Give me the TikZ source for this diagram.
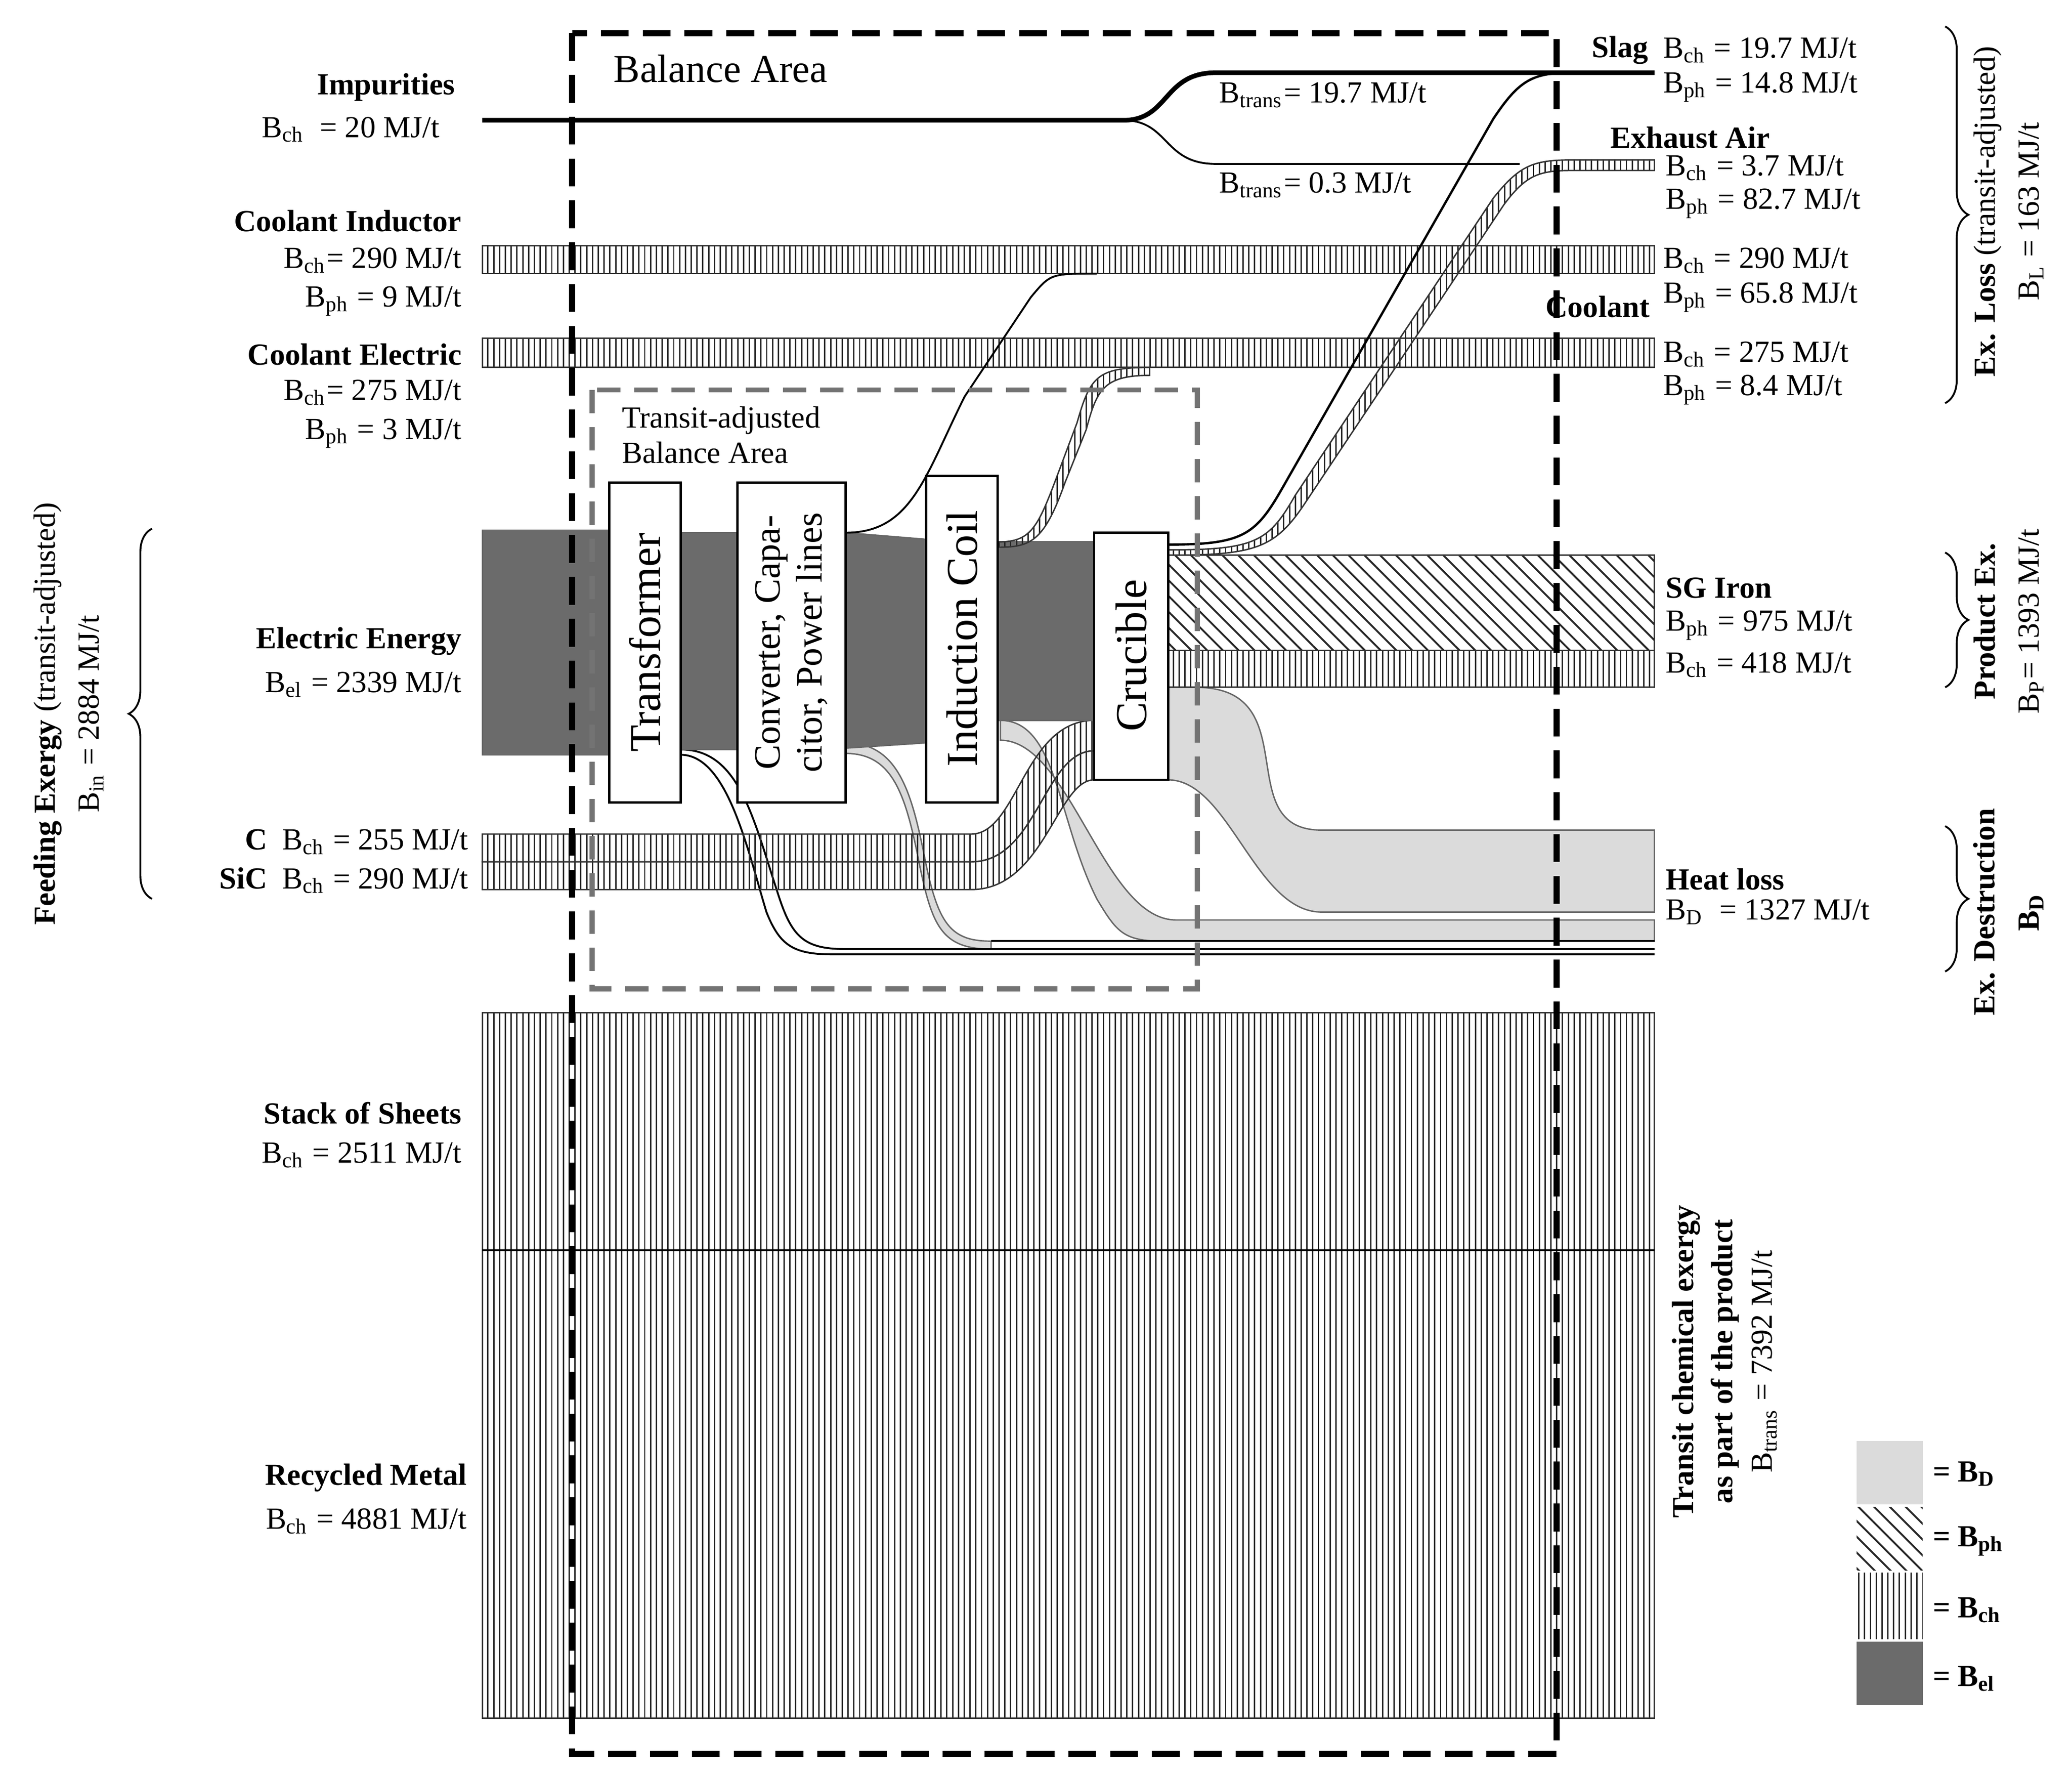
\documentclass[tikz,border=0pt]{standalone}
\usepackage{fontspec}
\setmainfont{Liberation Serif}
\usetikzlibrary{patterns,patterns.meta,decorations.pathreplacing}
\newcommand\Bsub[1]{B\textsubscript{#1}}
\begin{document}
\begin{tikzpicture}[x=0.01cm,y=-0.01cm,font=\fontsize{6.6}{7.5}\selectfont,
 chh/.style={pattern={Lines[angle=90,distance=1.25pt,line width=0.3pt]},pattern color=black!85,draw=black!80,line width=0.3pt},
 phh/.style={pattern={Lines[angle=-45,distance=2.4pt,line width=0.4pt]},pattern color=black!85,draw=black!80,line width=0.3pt},
 elf/.style={fill=black!58,draw=black!60,line width=0.3pt},
 dsf/.style={fill=black!14,draw=black!60,line width=0.3pt},
 box/.style={draw,fill=white,line width=0.5pt},
 lab/.style={anchor=east,align=right,inner sep=0},
 rlab/.style={anchor=west,align=left,inner sep=0},
 br/.style={decorate,decoration={brace,amplitude=5pt},line width=0.4pt}]
\useasboundingbox (0,0) rectangle (1568,1345);
% stack
\path[chh] (365,766) rectangle (1252,1300);
\draw[line width=0.4pt] (365,946) -- (1252,946);
% coolant bands
\path[chh] (365,186) rectangle (1252,207);
\path[chh] (365,256) rectangle (1252,278);
% impurities
\draw[line width=1pt] (365,91) -- (850,91) .. controls (885,91) and (880,55) .. (920,55) -- (1252,55);
\draw[line width=0.4pt] (850,91) .. controls (885,91) and (880,124) .. (920,124) -- (1150,124);
% heat loss
\path[dsf] (884,520) -- (905,520) .. controls (990,520) and (930,628) .. (1000,628) -- (1252,628) -- (1252,690) -- (1000,690) .. controls (950,690) and (930,590) .. (884,590) -- cycle;
\path[dsf] (757,545) .. controls (800,545) and (800,620) .. (830,680) .. controls (845,705) and (850,712) .. (880,712) -- (1252,712) -- (1252,696) -- (890,696) .. controls (835,696) and (810,560) .. (757,560) -- cycle;
\path[dsf] (640,562) .. controls (680,562) and (690,600) .. (700,650) .. controls (710,700) and (720,712) .. (750,712) -- (750,718) .. controls (712,718) and (705,700) .. (695,650) .. controls (685,600) and (675,570) .. (640,570) -- cycle;
\draw[line width=0.4pt] (750,712) -- (1252,712);
\draw[line width=0.4pt] (515,567) .. controls (560,567) and (570,620) .. (590,680) .. controls (600,710) and (610,718) .. (640,718) -- (1252,718);
\draw[line width=0.4pt] (515,571) .. controls (550,571) and (565,640) .. (580,690) .. controls (590,715) and (600,722) .. (630,722) -- (1252,722);
% C and SiC
\path[chh] (365,631) -- (735,631) .. controls (770,631) and (775,545) .. (828,545) -- (828,568) .. controls (790,568) and (785,652) .. (735,652) -- (365,652) -- cycle;
\path[chh] (365,652) -- (735,652) .. controls (785,652) and (790,568) .. (828,568) -- (828,590) .. controls (800,590) and (790,673) .. (735,673) -- (365,673) -- cycle;
% electric
\path[elf] (365,401) rectangle (461,571);
\path[elf] (515,403) rectangle (558,567);
\path[elf] (640,403) -- (701,408) -- (701,562) -- (640,566) -- cycle;
\path[elf] (755,410) rectangle (828,545);
% SG iron
\path[phh] (884,420) rectangle (1252,492);
\path[chh] (884,492) rectangle (1252,520);
% lines upward
\draw[line width=0.4pt] (640,403) .. controls (690,403) and (700,360) .. (730,300) -- (780,225) .. controls (795,207) .. (830,207);
\path[chh] (755,410) .. controls (780,410) and (785,400) .. (800,360) -- (815,320) .. controls (825,285) and (830,278) .. (870,278) -- (870,284) .. controls (835,284) and (830,295) .. (822,325) -- (806,365) .. controls (790,410) and (780,414) .. (755,414) -- cycle;
\draw[line width=0.5pt] (884,412) .. controls (940,412) and (950,405) .. (970,370) -- (1130,90) .. controls (1150,60) and (1160,55) .. (1190,55);
\path[chh] (884,416) .. controls (950,416) and (960,410) .. (980,375) -- (1130,150) .. controls (1150,125) and (1160,121) .. (1190,121) -- (1252,121) -- (1252,129) -- (1190,129) .. controls (1165,129) and (1155,132) .. (1138,155) -- (988,380) .. controls (965,415) and (950,420) .. (884,420) -- cycle;
% boxes
\draw[box] (461,365) rectangle (515,607);
\node[rotate=90,font=\fontsize{9.5}{10}\selectfont] at (488,486) {Transformer};
\draw[box] (558,365) rectangle (640,607);
\node[rotate=90,align=center,font=\fontsize{8}{9}\selectfont] at (599,486) {Converter, Capa-\\citor, Power lines};
\draw[box] (701,360) rectangle (755,607);
\node[rotate=90,font=\fontsize{9.5}{10}\selectfont] at (728,483) {Induction Coil};
\draw[box] (828,403) rectangle (884,590);
\node[rotate=90,font=\fontsize{9.5}{10}\selectfont] at (856,496) {Crucible};
% balance areas
\draw[line width=1.3pt,dash pattern=on 6pt off 3pt] (433,25) rectangle (1178,1327);
\draw[line width=1.1pt,black!55,dash pattern=on 5pt off 3pt] (448,295) rectangle (906,748);
\node[anchor=west,font=\fontsize{8.5}{9}\selectfont] at (452,52) {Balance Area};
\node[anchor=north west,align=left,inner sep=0] at (470,307) {Transit-adjusted\\Balance Area};
% transit labels
\node[anchor=west,inner sep=0] at (922,72) {\Bsub{trans}= 19.7 MJ/t};
\node[anchor=west,inner sep=0] at (922,140) {\Bsub{trans}= 0.3 MJ/t};
% left labels
\node[lab] at (345,66) {\textbf{Impurities}};
\node[lab] at (345,98) {\Bsub{ch}\ \ = 20 MJ/t\ \ };
\node[lab] at (350,167) {\textbf{Coolant Inductor}};
\node[lab] at (350,197) {\Bsub{ch}= 290 MJ/t};
\node[lab] at (350,228) {\Bsub{ph} = 9 MJ/t};
\node[lab] at (350,268) {\textbf{Coolant Electric}};
\node[lab] at (350,297) {\Bsub{ch}= 275 MJ/t};
\node[lab] at (350,328) {\Bsub{ph} = 3 MJ/t};
\node[lab] at (350,485) {\textbf{Electric Energy}};
\node[lab] at (350,518) {\Bsub{el} = 2339 MJ/t};
\node[lab] at (355,637) {\textbf{C}\ \ \Bsub{ch} = 255 MJ/t};
\node[lab] at (355,666) {\textbf{SiC}\ \ \Bsub{ch} = 290 MJ/t};
\node[lab] at (350,842) {\textbf{Stack of Sheets}};
\node[lab] at (350,874) {\Bsub{ch} = 2511 MJ/t};
\node[lab] at (354,1118) {\textbf{Recycled Metal}};
\node[lab] at (354,1151) {\Bsub{ch} = 4881 MJ/t};
% right labels
\node[lab] at (1248,38) {\textbf{Slag}};
\node[rlab] at (1258,38) {\Bsub{ch} = 19.7 MJ/t};
\node[rlab] at (1258,66) {\Bsub{ph} = 14.8 MJ/t};
\node[lab] at (1340,104) {\textbf{Exhaust Air}};
\node[rlab] at (1260,127) {\Bsub{ch} = 3.7 MJ/t};
\node[rlab] at (1260,154) {\Bsub{ph} = 82.7 MJ/t};
\node[rlab] at (1258,197) {\Bsub{ch} = 290 MJ/t};
\node[lab] at (1249,232) {\textbf{Coolant}};
\node[rlab] at (1258,225) {\Bsub{ph} = 65.8 MJ/t};
\node[rlab] at (1258,268) {\Bsub{ch} = 275 MJ/t};
\node[rlab] at (1258,295) {\Bsub{ph} = 8.4 MJ/t};
\node[rlab] at (1260,445) {\textbf{SG Iron}};
\node[rlab] at (1260,473) {\Bsub{ph} = 975 MJ/t};
\node[rlab] at (1260,503) {\Bsub{ch} = 418 MJ/t};
\node[rlab] at (1260,665) {\textbf{Heat loss}};
\node[rlab] at (1260,690) {\Bsub{D}\ \ = 1327 MJ/t};
% braces
\draw[br] (1472,20) -- (1472,305);
\draw[br] (1472,418) -- (1472,520);
\draw[br] (1472,625) -- (1472,735);
\draw[br] (115,680) -- (115,400);
\node[rotate=90,align=center,inner sep=0] at (1520,160) {\textbf{Ex. Loss} (transit-adjusted)\\[2pt] \Bsub{L} = 163 MJ/t};
\node[rotate=90,align=center,inner sep=0] at (1520,470) {\textbf{Product Ex.}\\[2pt] \Bsub{P}= 1393 MJ/t};
\node[rotate=90,align=center,inner sep=0] at (1520,690) {\textbf{Ex. Destruction}\\[2pt] \textbf{B\textsubscript{D}}};
\node[rotate=90,align=center,inner sep=0] at (52,540) {\textbf{Feeding Exergy} (transit-adjusted)\\[2pt] \Bsub{in} = 2884 MJ/t};
\node[rotate=90,align=center,inner sep=0] at (1305,1030) {\textbf{Transit chemical exergy}\\[1pt] \textbf{as part of the product}\\[1pt] \Bsub{trans} = 7392 MJ/t};
% legend
\path[fill=black!14] (1405,1090) rectangle (1455,1138);
\path[phh,draw=none] (1405,1140) rectangle (1455,1188);
\path[chh,draw=none] (1405,1190) rectangle (1455,1240);
\path[fill=black!58] (1405,1242) rectangle (1455,1290);
\node[rlab] at (1462,1115) {\textbf{= B\textsubscript{D}}};
\node[rlab] at (1462,1166) {\textbf{= B\textsubscript{ph}}};
\node[rlab] at (1462,1218) {\textbf{= B\textsubscript{ch}}};
\node[rlab] at (1462,1270) {\textbf{= B\textsubscript{el}}};
\end{tikzpicture}
\end{document}
